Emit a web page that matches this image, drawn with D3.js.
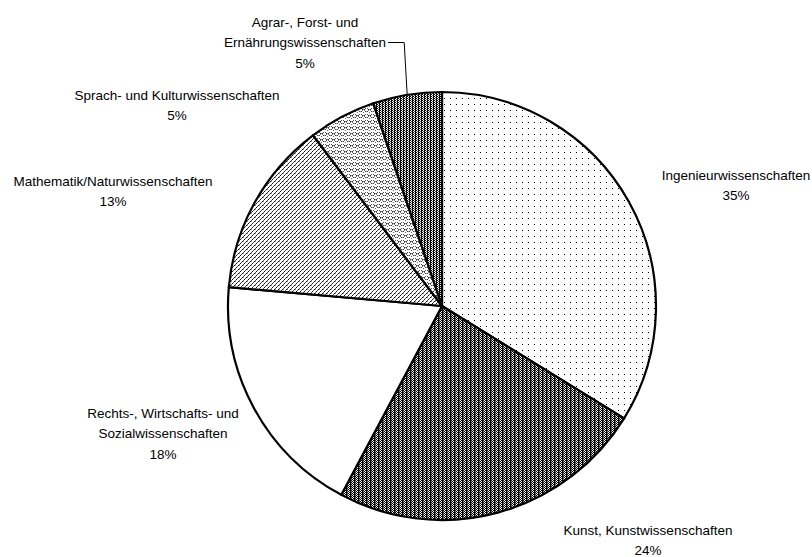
<!DOCTYPE html>
<html>
<head>
<meta charset="utf-8">
<script src="https://cdn.jsdelivr.net/npm/d3@7"></script>
<style>
  body { margin: 0; background: #fff; }
  text { font-family: "Liberation Sans", Arial, sans-serif; font-size: 13.5px; fill: #000; }
</style>
</head>
<body>
<svg id="chart" width="812" height="557"></svg>
<script>
// data, clockwise from 12 o'clock
var fields = [
    ["Ingenieurwissenschaften"],
    ["Kunst, Kunstwissenschaften"],
    ["Rechts-, Wirtschafts- und", "Sozialwissenschaften"],
    ["Mathematik/Naturwissenschaften"],
    ["Sprach- und Kulturwissenschaften"],
    ["Agrar-, Forst- und", "Ernährungswissenschaften"]
];
var shares = [33.8, 24.0, 18.6, 13.3, 5.1, 5.2];   // slice sizes as drawn
var pctLabels = ["35%", "24%", "18%", "13%", "5%", "5%"];
var patternIds = ["dots", "kunst", "blank", "diag", "lattice", "agrar"];

// label anchor (centre of first line), not data
var labelPos = [[736, 175], [648, 530], [163, 413], [113, 181], [177, 95], [305, 22]];

var svg = d3.select("#chart");
var cx = 442, cy = 306, R = 214;

// --- fill patterns (rough copies of the excel hatch fills)
var defs = svg.append("defs");
function pat(id, w, h) {
    return defs.append("pattern").attr("id", id)
        .attr("patternUnits", "userSpaceOnUse")
        .attr("width", w).attr("height", h)
        .attr("shape-rendering", "crispEdges");
}
function px(p, x, y, w, h, c) {
    p.append("rect").attr("x", x).attr("y", y).attr("width", w).attr("height", h).attr("fill", c);
}

var p = pat("dots", 6, 6);
px(p, 0, 0, 6, 6, "#fff");
px(p, 2, 2, 1, 1, "#000");

p = pat("kunst", 4, 2);
px(p, 0, 0, 4, 2, "#fff");
px(p, 0, 0, 1, 2, "#000");
px(p, 1, 0, 1, 1, "#222");
px(p, 1, 1, 1, 1, "#888");
px(p, 2, 1, 1, 1, "#000");
px(p, 3, 0, 1, 1, "#000");

p = pat("blank", 4, 4);
px(p, 0, 0, 4, 4, "#fff");

p = pat("diag", 4, 4);
px(p, 0, 0, 4, 4, "#fff");
px(p, 0, 3, 1, 1, "#111");
px(p, 1, 2, 1, 1, "#555");
px(p, 2, 1, 1, 1, "#111");
px(p, 3, 0, 1, 1, "#555");
px(p, 1, 3, 1, 1, "#999");

p = pat("lattice", 6, 6);
px(p, 0, 0, 6, 6, "#fff");
px(p, 1, 0, 1, 1, "#555"); px(p, 3, 0, 1, 1, "#555");
px(p, 0, 1, 1, 1, "#333"); px(p, 4, 1, 1, 1, "#333");
px(p, 0, 2, 1, 1, "#777"); px(p, 4, 2, 1, 1, "#777");
px(p, 1, 3, 1, 1, "#444"); px(p, 3, 3, 1, 1, "#444");
px(p, 2, 3, 1, 1, "#999");
px(p, 5, 1, 1, 1, "#888"); px(p, 5, 4, 1, 1, "#666");

p = pat("agrar", 3, 4);
px(p, 0, 0, 3, 4, "#fff");
px(p, 0, 0, 1, 4, "#000");
px(p, 1, 0, 1, 1, "#000");
px(p, 1, 2, 1, 1, "#000");
px(p, 2, 1, 1, 1, "#666");
px(p, 2, 3, 1, 1, "#666");

// --- pie
var pie = d3.pie().sort(null).value(function(d) { return d; });
var arc = d3.arc().innerRadius(0).outerRadius(R);
var rim = d3.arc().innerRadius(R).outerRadius(R);
var arcs = pie(shares);

var g = svg.append("g").attr("transform", "translate(" + cx + "," + cy + ")");
g.selectAll("path.slice")
    .data(arcs)
    .enter().append("path")
    .attr("class", "slice")
    .attr("d", arc)
    .attr("fill", function(d, i) { return "url(#" + patternIds[i] + ")"; })
    .attr("stroke", "#000")
    .attr("stroke-width", 2.2)
    .attr("stroke-linejoin", "round");

// --- labels
var lh = 20.5;
var agrarLine;
fields.forEach(function(lines, i) {
    var t = svg.append("text")
        .attr("text-anchor", "middle")
        .attr("x", labelPos[i][0])
        .attr("y", labelPos[i][1] + 4.5);
    lines.concat([pctLabels[i]]).forEach(function(s, k) {
        var sp = t.append("tspan").attr("x", labelPos[i][0]).attr("dy", k ? lh : 0).text(s);
        if (i == 5 && k == 1) agrarLine = sp;
    });
});

// leader line for the small agrar slice
var tip = rim.centroid(arcs[5]);
var lx = labelPos[5][0] + agrarLine.node().getComputedTextLength() / 2 + 2,
    ly = labelPos[5][1] + lh;
svg.append("path")
    .attr("d", "M" + lx + "," + ly + "H" + (cx + tip[0] - 3) + "L" + (cx + tip[0]) + "," + (cy + tip[1]))
    .attr("fill", "none")
    .attr("stroke", "#000")
    .attr("stroke-width", 1);
</script>
</body>
</html>
